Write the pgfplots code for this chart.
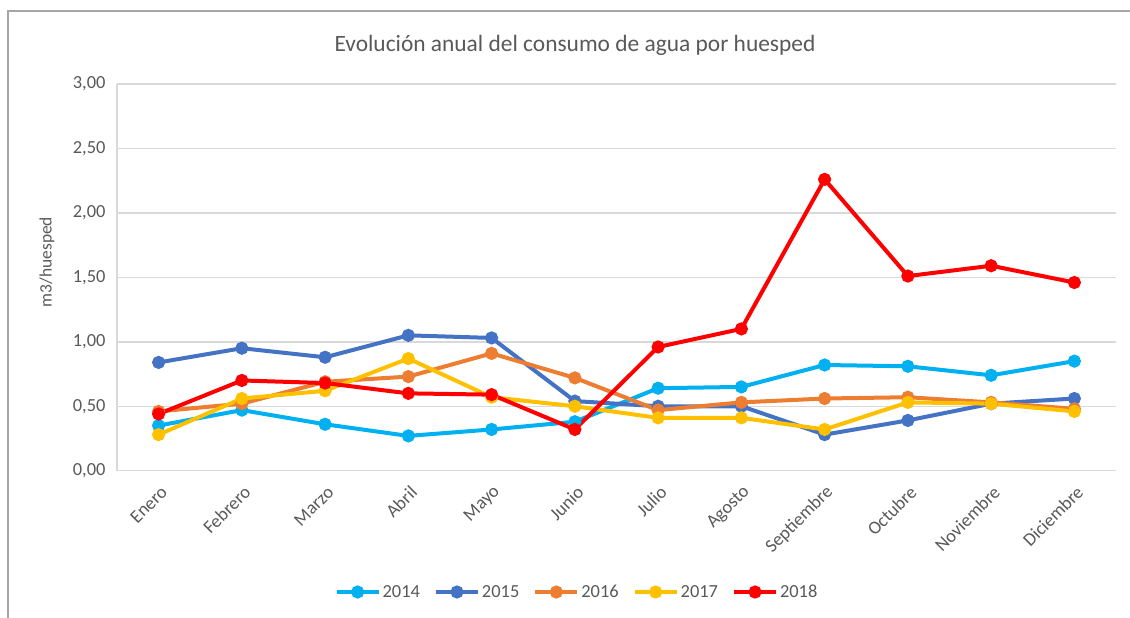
\documentclass[border=0pt]{standalone}
\usepackage{pgfplots}
\pgfplotsset{compat=1.18}
\usepackage{fontspec}
\setmainfont{Carlito}
\definecolor{c14}{HTML}{00B0F0}
\definecolor{c15}{HTML}{4472C4}
\definecolor{c16}{HTML}{ED7D31}
\definecolor{c17}{HTML}{FFC000}
\definecolor{c18}{HTML}{FF0000}
\definecolor{txt}{HTML}{595959}
\definecolor{gridc}{HTML}{D9D9D9}
\definecolor{framec}{HTML}{A6A6A6}
\begin{document}
\begin{tikzpicture}
\begin{axis}[
  scale only axis, width=999bp, height=386.7bp,
  clip=false,
  xmin=-0.5, xmax=11.5, ymin=0, ymax=3,
  xtick={0,...,11},
  xticklabels={Enero,Febrero,Marzo,Abril,Mayo,Junio,Julio,Agosto,Septiembre,Octubre,Noviembre,Diciembre},
  ytick={0,0.5,1,1.5,2,2.5,3},
  /pgf/number format/fixed,
  /pgf/number format/fixed zerofill,
  /pgf/number format/precision=2,
  /pgf/number format/use comma,
  /pgf/number format/assume math mode=true,
  ticklabel style={font=\fontsize{18.5}{20}\selectfont, text=txt},
  xticklabel style={rotate=45, anchor=east, xshift=-5.7bp, yshift=-17bp},
  yticklabel style={xshift=-8bp},
  major tick length=0pt,
  axis x line*=bottom, axis y line*=left,
  axis line style={gridc, line width=1.5bp, -},
  ymajorgrids, grid style={gridc, line width=1.5bp},
  every axis plot/.append style={line width=4bp, mark=*, mark size=4.5bp, mark options={solid}},
  legend columns=5,
  legend style={at={(0.4605,-0.3137)}, anchor=center, draw=none, fill=none,
    font=\fontsize{18.5}{20}\selectfont, text=txt,
    /tikz/every even column/.append style={column sep=12bp}},
  legend image code/.code={
    \draw[#1, mark repeat=2, mark phase=2] plot coordinates {(0bp,0bp) (21bp,0bp) (42bp,0bp)};
  },
]
\addplot[c14, mark options={fill=c14}] coordinates {(0,0.35) (1,0.47) (2,0.36) (3,0.27) (4,0.32) (5,0.38) (6,0.64) (7,0.65) (8,0.82) (9,0.81) (10,0.74) (11,0.85)};
\addlegendentry{2014}
\addplot[c15, mark options={fill=c15}] coordinates {(0,0.84) (1,0.95) (2,0.88) (3,1.05) (4,1.03) (5,0.54) (6,0.50) (7,0.50) (8,0.28) (9,0.39) (10,0.52) (11,0.56)};
\addlegendentry{2015}
\addplot[c16, mark options={fill=c16}] coordinates {(0,0.46) (1,0.52) (2,0.69) (3,0.73) (4,0.91) (5,0.72) (6,0.47) (7,0.53) (8,0.56) (9,0.57) (10,0.53) (11,0.48)};
\addlegendentry{2016}
\addplot[c17, mark options={fill=c17}] coordinates {(0,0.28) (1,0.56) (2,0.62) (3,0.87) (4,0.57) (5,0.50) (6,0.41) (7,0.41) (8,0.32) (9,0.53) (10,0.52) (11,0.46)};
\addlegendentry{2017}
\addplot[c18, mark options={fill=c18}] coordinates {(0,0.44) (1,0.70) (2,0.68) (3,0.60) (4,0.59) (5,0.32) (6,0.96) (7,1.10) (8,2.26) (9,1.51) (10,1.59) (11,1.46)};
\addlegendentry{2018}
\coordinate (BBa) at (axis description cs:-0.1171,-0.3785);
\coordinate (BBb) at (axis description cs:1.0140,1.2172);
\draw[framec, line width=1.5bp] (axis description cs:-0.1091,-0.40) -- (axis description cs:-0.1091,1.1888) -- (axis description cs:1.03,1.1888);
\node[txt, font=\fontsize{23.5}{26}\selectfont] at (axis description cs:0.4585,1.1009) {Evolución anual del consumo de agua por huesped};
\node[txt, rotate=90, font=\fontsize{17.5}{19}\selectfont] at (axis description cs:-0.0701,0.5397) {m3/huesped};
\end{axis}
\pgfresetboundingbox
\useasboundingbox (BBa) rectangle (BBb);
\end{tikzpicture}
\end{document}
